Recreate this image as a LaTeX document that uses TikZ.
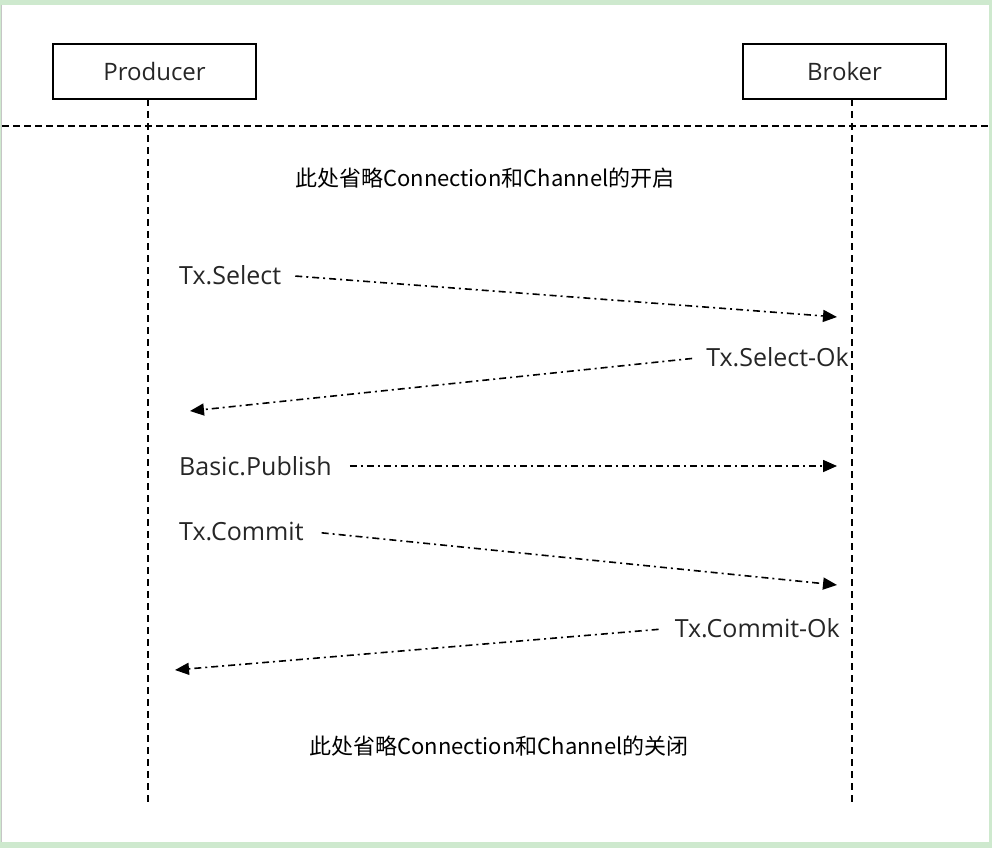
\documentclass[tikz,border=0pt]{standalone}
\usepackage{fontspec}
\setmainfont{Open Sans}
\newfontfamily\cjk{Noto Sans CJK SC}
\usetikzlibrary{arrows.meta}
\definecolor{framegreen}{RGB}{206,233,206}
\tikzset{
    actor/.style={draw, line width=1.3pt, minimum width=203pt, minimum height=55pt, text=black!85, font=\fontsize{24}{28}\selectfont}, % 参与者方框
    lifeline/.style={line width=1.3pt, dash pattern=on 7pt off 5pt}, % 生命线
    msg/.style={line width=1.6pt, dash pattern=on 7pt off 4pt on 2pt off 4pt, -{Triangle[length=14pt,width=12pt]}}, % 消息箭头
    lbl/.style={inner sep=0pt, text=black!85, font=\fontsize{25}{29}\selectfont},
    note/.style={inner sep=0pt, font=\cjk\fontsize{22}{26}\selectfont}
}
\begin{document}
\begin{tikzpicture}[x=1pt, y=-1pt]
    \useasboundingbox (0,0) rectangle (992,848);
    \fill[framegreen] (0,0) rectangle (992,848);
    \fill[white] (2,5) rectangle (989,842);
    \draw[gray!45, line width=0.8pt] (1.5,5) -- (1.5,842);

    \node[actor] (producer) at (154.5,71.5) {Producer};
    \node[actor] (broker) at (844.5,71.5) {Broker};
    \coordinate (ptop) at (148,99);  \coordinate (pbot) at (148,803);
    \coordinate (btop) at (852,99);  \coordinate (bbot) at (852,803);
    \draw[lifeline] (ptop) -- (pbot);
    \draw[lifeline] (btop) -- (bbot);
    \coordinate (sepl) at (2,126); \coordinate (sepr) at (988,126);
    \draw[lifeline, dash pattern=on 7pt off 4pt] (sepl) -- (sepr);

    \node[note] (open) at (485,178) {此处省略Connection和Channel的开启};

    \node[lbl, anchor=west] (sel) at (179,275) {Tx.Select};
    \node[lbl, anchor=east] (selok) at (849,357) {Tx.Select-Ok};
    \node[lbl, anchor=west] (pub) at (179,466) {Basic.Publish};
    \node[lbl, anchor=west] (com) at (179,531) {Tx.Commit};
    \node[lbl, anchor=east] (comok) at (840,628) {Tx.Commit-Ok};

    \coordinate (t1) at (837,317);
    \coordinate (t2) at (190,411);
    \coordinate (t3) at (837,466);
    \coordinate (t4) at (837,585);
    \coordinate (t5) at (175,670);
    \draw[msg, shorten <=14pt] (sel.east) -- (t1);
    \draw[msg, shorten <=14pt] (selok.west) -- (t2);
    \draw[msg, shorten <=18pt] (pub.east) -- (t3);
    \draw[msg, shorten <=18pt] (com.east) -- (t4);
    \draw[msg, shorten <=16pt] (comok.west) -- (t5);

    \node[note] (close) at (499,746) {此处省略Connection和Channel的关闭};
\end{tikzpicture}
\end{document}
